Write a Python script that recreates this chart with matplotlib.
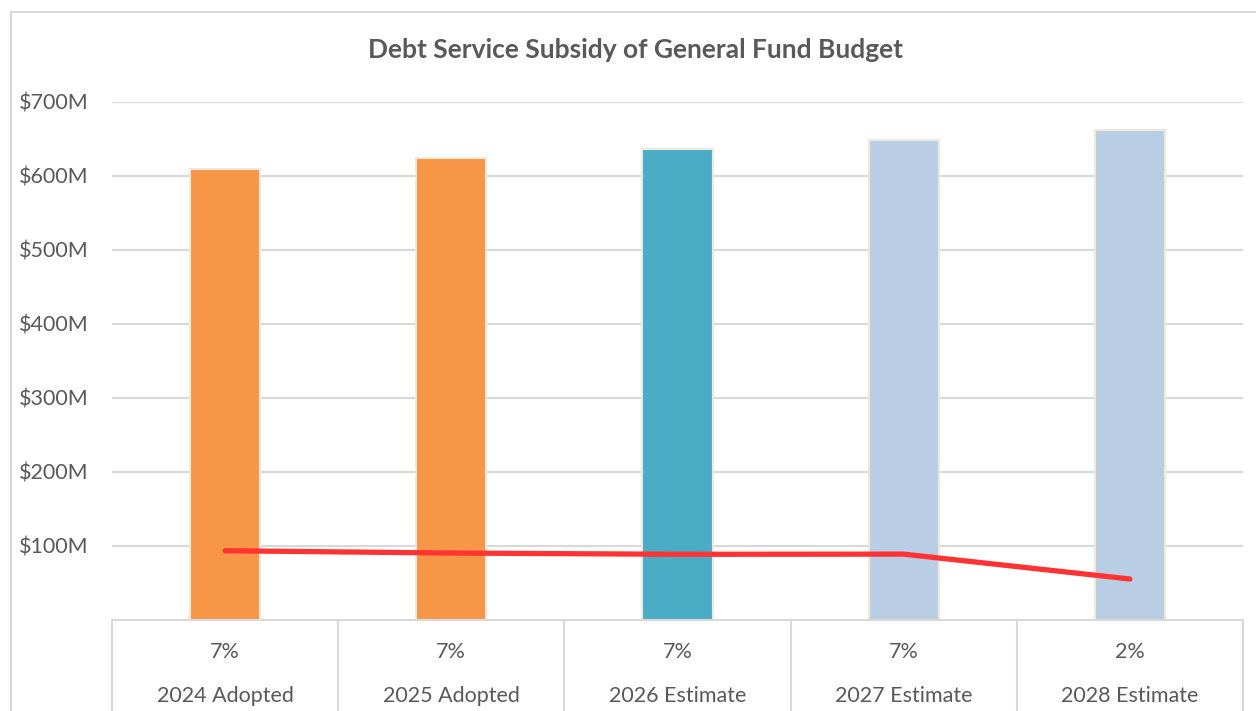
import matplotlib.pyplot as plt
from matplotlib.lines import Line2D
from matplotlib.ticker import FuncFormatter

# Chart data ($ millions)
categories = ['2024 Adopted', '2025 Adopted', '2026 Estimate', '2027 Estimate', '2028 Estimate']
pct_labels = ['7%', '7%', '7%', '7%', '2%']
budget = [609, 624, 636, 649, 662]
debt_service = [93.6, 90.5, 88.8, 89.0, 55.4]
bar_colors = ['#F79646', '#F79646', '#4BACC6', '#B9CDE5', '#B9CDE5']

TEXT = '#595959'
GRID = '#D9D9D9'

plt.rcParams['font.family'] = ['Lato', 'DejaVu Sans']

fig = plt.figure(figsize=(12.56, 7.11), dpi=100)
W, H = 1256, 711
ax = fig.add_axes([112 / W, 1 - 620 / H, (1243 - 112) / W, (620 - 102) / H])

x = list(range(len(categories)))
ax.bar(x, budget, width=0.31, color=bar_colors, edgecolor='#EFE9DD', linewidth=1.5, zorder=2)
ax.plot(x, debt_service, color='#FF3333', linewidth=3.8, solid_capstyle='round',
        solid_joinstyle='round', zorder=3)

ax.set_xlim(-0.5, len(categories) - 0.5)
ax.set_ylim(0, 700)
ax.set_yticks(range(100, 800, 100))
ax.yaxis.set_major_formatter(FuncFormatter(lambda v, p: f'${int(v)}M'))
ax.tick_params(axis='y', length=0, pad=17, labelsize=15.5, labelcolor=TEXT)
ax.set_xticks([])
ax.grid(axis='y', color=GRID, linewidth=1.5, zorder=0)
for s in ax.spines.values():
    s.set_visible(False)

# Category table under the plot area
trans = ax.get_xaxis_transform()
ax.add_line(Line2D([-0.5, len(categories) - 0.5], [0, 0], transform=trans,
                   color=GRID, linewidth=1.5, clip_on=False))
for b in [i - 0.5 for i in range(len(categories) + 1)]:
    ax.add_line(Line2D([b, b], [0, -0.2], transform=trans, color=GRID,
                       linewidth=1.5, clip_on=False))
for i, (pct, cat) in enumerate(zip(pct_labels, categories)):
    ax.text(i, -(652 - 620) / 518, pct, transform=trans, ha='center', va='center',
            fontsize=15.5, color=TEXT)
    ax.text(i, -(696 - 620) / 518, cat, transform=trans, ha='center', va='center',
            fontsize=15.5, color=TEXT)

fig.text(635 / W, 1 - 50 / H, 'Debt Service Subsidy of General Fund Budget',
         ha='center', va='center', fontsize=19, fontweight='bold', color=TEXT)

# Outer chart frame
fig.add_artist(Line2D([11 / W, 11 / W], [0, 1 - 12 / H], color=GRID, linewidth=1.5))
fig.add_artist(Line2D([11 / W, 1], [1 - 12 / H, 1 - 12 / H], color=GRID, linewidth=1.5))

fig.savefig('out.png', dpi=100)
